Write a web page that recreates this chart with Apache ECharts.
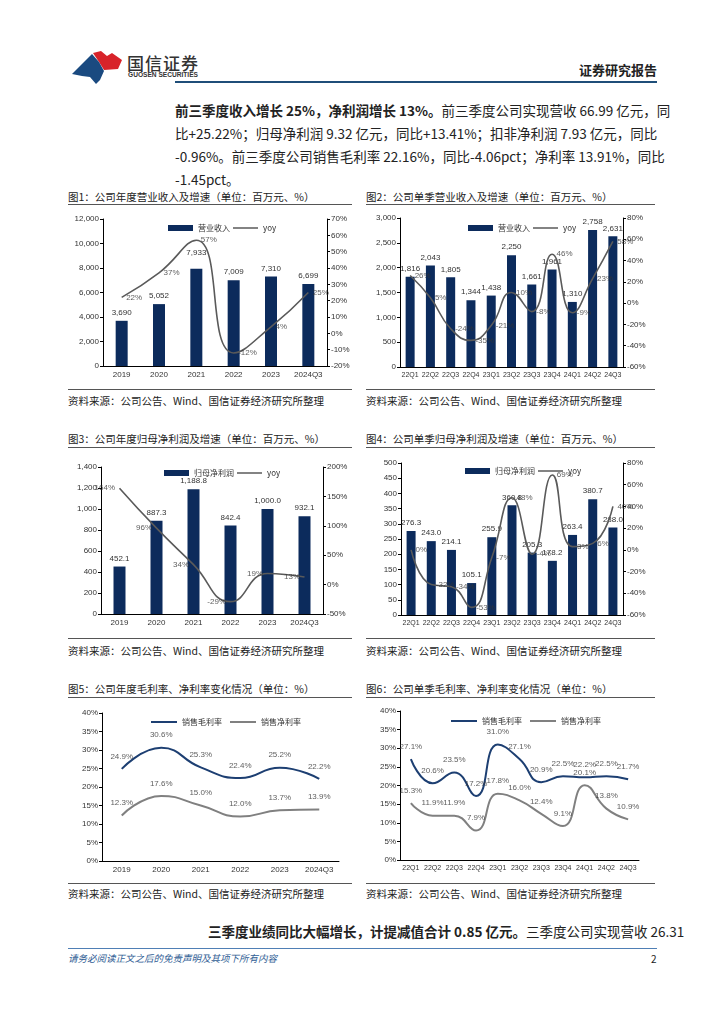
<!DOCTYPE html>
<html><head><meta charset="utf-8">
<script src="https://cdn.jsdelivr.net/npm/echarts@6/dist/echarts.min.js"></script>
<style>
html,body{margin:0;padding:0;background:#fff;}
body{width:724px;height:1024px;position:relative;overflow:hidden;font-family:"Noto Sans CJK SC","Liberation Sans",sans-serif;color:#222;}
.abs{position:absolute;}
.ln{position:absolute;left:175px;width:482px;font-size:13.5px;line-height:20px;white-space:nowrap;text-align:justify;text-align-last:justify;}
.ttl{position:absolute;font-size:10.5px;line-height:14px;color:#222;white-space:nowrap;}
.rule{position:absolute;height:0;border-top:1px solid #555;}
.src{position:absolute;font-size:10.5px;line-height:14px;color:#222;white-space:nowrap;}
.ch{position:absolute;}
</style></head>
<body>
<svg class="abs" style="left:66px;top:40px" width="70" height="50" viewBox="66 40 70 50">
  <polygon points="93,53 101,51 107,56 112,53 122,60 118,69 104,70 99,62" fill="#d8232a"/>
  <polygon points="72,74 92,54 99,62 104,71 100,80 96,84 90,77 82,76" fill="#1a4a80"/>
</svg>
<div class="abs" style="left:127px;top:50px;font-size:17px;letter-spacing:1px;color:#333;font-weight:500;">国信证券</div>
<div class="abs" style="left:128px;top:71px;font-size:6.6px;font-weight:bold;color:#333;font-family:'Liberation Sans',sans-serif;">GUOSEN SECURITIES</div>
<div class="abs" style="right:67px;top:60px;font-size:13px;font-weight:bold;color:#222;">证券研究报告</div>
<div class="abs" style="left:175px;top:81px;width:482px;height:2px;background:#1f4e79;"></div>

<div class="ln" style="top:100px;"><b>前三季度收入增长 25%，净利润增长 13%。</b>前三季度公司实现营收 66.99 亿元，同</div>
<div class="ln" style="top:123px;">比+25.22%；归母净利润 9.32 亿元，同比+13.41%；扣非净利润 7.93 亿元，同比</div>
<div class="ln" style="top:146px;">-0.96%。前三季度公司销售毛利率 22.16%，同比-4.06pct；净利率 13.91%，同比</div>
<div class="ln" style="top:169px;text-align-last:left;">-1.45pct。</div>

<div class="ttl" style="left:68px;top:190px;">图1：公司年度营业收入及增速（单位：百万元、%）</div>
<div class="rule" style="left:68px;top:204px;width:284px;"></div>
<div class="ttl" style="left:366px;top:190px;">图2：公司单季营业收入及增速（单位：百万元、%）</div>
<div class="rule" style="left:366px;top:204px;width:289px;"></div>
<div class="rule" style="left:68px;top:389px;width:284px;"></div>
<div class="rule" style="left:366px;top:389px;width:289px;"></div>
<div class="src" style="left:68px;top:394px;">资料来源：公司公告、Wind、国信证券经济研究所整理</div>
<div class="src" style="left:366px;top:394px;">资料来源：公司公告、Wind、国信证券经济研究所整理</div>

<div class="ttl" style="left:68px;top:432px;">图3：公司年度归母净利润及增速（单位：百万元、%）</div>
<div class="rule" style="left:68px;top:447px;width:284px;"></div>
<div class="ttl" style="left:366px;top:432px;">图4：公司单季归母净利润及增速（单位：百万元、%）</div>
<div class="rule" style="left:366px;top:447px;width:289px;"></div>
<div class="rule" style="left:68px;top:638px;width:284px;"></div>
<div class="rule" style="left:366px;top:638px;width:289px;"></div>
<div class="src" style="left:68px;top:644px;">资料来源：公司公告、Wind、国信证券经济研究所整理</div>
<div class="src" style="left:366px;top:644px;">资料来源：公司公告、Wind、国信证券经济研究所整理</div>

<div class="ttl" style="left:68px;top:682px;">图5：公司年度毛利率、净利率变化情况（单位：%）</div>
<div class="rule" style="left:68px;top:697px;width:284px;"></div>
<div class="ttl" style="left:366px;top:682px;">图6：公司单季毛利率、净利率变化情况（单位：%）</div>
<div class="rule" style="left:366px;top:697px;width:289px;"></div>
<div class="rule" style="left:68px;top:883px;width:284px;"></div>
<div class="rule" style="left:366px;top:883px;width:289px;"></div>
<div class="src" style="left:68px;top:887px;">资料来源：公司公告、Wind、国信证券经济研究所整理</div>
<div class="src" style="left:366px;top:887px;">资料来源：公司公告、Wind、国信证券经济研究所整理</div>

<div class="ln" style="top:921px;left:208px;width:449px;"><b>三季度业绩同比大幅增长，计提减值合计 0.85 亿元。</b>三季度公司实现营收 26.31</div>
<div class="abs" style="left:68px;top:948px;width:589px;height:1px;background:#4f7fb5;"></div>
<div class="abs" style="left:68px;top:951px;font-size:9.5px;font-style:italic;color:#2f5d94;">请务必阅读正文之后的免责声明及其项下所有内容</div>
<div class="abs" style="left:651px;top:951px;font-size:10px;color:#222;">2</div>

<div id="c1" class="ch" style="left:60px;top:208px;width:300px;height:182px;"></div>
<div id="c2" class="ch" style="left:360px;top:208px;width:300px;height:182px;"></div>
<div id="c3" class="ch" style="left:60px;top:455px;width:300px;height:180px;"></div>
<div id="c4" class="ch" style="left:360px;top:452px;width:300px;height:183px;"></div>
<div id="c5" class="ch" style="left:60px;top:700px;width:300px;height:182px;"></div>
<div id="c6" class="ch" style="left:360px;top:700px;width:300px;height:182px;"></div>

<script>
const years = ['2019','2020','2021','2022','2023','2024Q3'];
const quarters = ['22Q1','22Q2','22Q3','22Q4','23Q1','23Q2','23Q3','23Q4','24Q1','24Q2','24Q3'];

const revAnnual = [3690, 5052, 7933, 7009, 7310, 6699];
const revAnnualYoy = [22, 37, 57, -12, 4, 25];
const revQ = [1816, 2043, 1805, 1344, 1438, 2250, 1661, 1961, 1310, 2758, 2631];
const revQYoy = [26, 5, -24, -35, -21, 10, -8, 46, -9, 23, 58];

const npAnnual = [452.1, 887.3, 1188.8, 842.4, 1000.0, 932.1];
const npAnnualYoy = [164, 96, 34, -29, 19, 13];
const npQ = [276.3, 243.0, 214.1, 105.1, 255.9, 360.8, 205.3, 178.2, 263.4, 380.7, 288.0];
const npQYoy = [0, -32, -34, -53, -7, 48, -4, 69, 3, 6, 40];

const gmAnnual = [24.9, 30.6, 25.3, 22.4, 25.2, 22.2];
const nmAnnual = [12.3, 17.6, 15.0, 12.0, 13.7, 13.9];
const gmQ = [27.1, 20.6, 23.5, 17.2, 31.0, 27.1, 20.9, 22.5, 22.2, 22.5, 21.7];
const nmQ = [15.3, 11.9, 11.9, 7.9, 17.8, 16.0, 12.4, 9.1, 20.1, 13.8, 10.9];

const FONT = 'Liberation Sans';
const NAVY = '#0c2b5c';
const GRAY = '#5a5a5a';
const lbl = {fontSize: 8, color: '#333', fontFamily: FONT};
const fmtInt = v => Number(v).toLocaleString('en-US');
const fmt1 = v => Number(v).toLocaleString('en-US', {minimumFractionDigits: 1, maximumFractionDigits: 1});
const LINE_ICON_THIN = 'path://M0,0H40V2.4H0Z';
const LINE_ICON_THICK = 'path://M0,0H30V2.3H0Z';

function axisY(min, max, interval, fmt, pos) {
  return {
    type: 'value', min, max, interval, position: pos,
    axisLine: {show: true, lineStyle: {color: '#000', width: 1}},
    axisTick: {show: true, length: 3, lineStyle: {color: '#000'}},
    axisLabel: Object.assign({formatter: fmt, margin: 4}, lbl),
    splitLine: {show: false}
  };
}
function axisX(cats, fs) {
  return {
    type: 'category', data: cats,
    axisLine: {lineStyle: {color: '#000', width: 1}},
    axisTick: {show: false},
    axisLabel: Object.assign({}, lbl, {margin: 5, interval: 0, fontSize: fs || 8})
  };
}
function labelScatter(data, yIdx, pos, dist, fmt) {
  return {
    type: 'scatter', yAxisIndex: yIdx, data, symbol: 'circle', symbolSize: 1,
    itemStyle: {color: 'rgba(0,0,0,0)'}, silent: true, z: 4,
    label: Object.assign({show: true, position: pos, distance: dist, formatter: fmt}, lbl)
  };
}

function barLine(id, o) {
  const ch = echarts.init(document.getElementById(id), null, {renderer: 'canvas'});
  ch.setOption({
    animation: false,
    textStyle: {fontFamily: FONT},
    grid: o.grid,
    legend: {
      left: o.legend[0], top: o.legend[1], itemWidth: 25, itemHeight: 6, itemGap: 3,
      symbolKeepAspect: true,
      textStyle: {fontSize: 8, color: '#333', fontFamily: 'Noto Sans CJK SC'},
      data: [{name: o.barName, icon: 'rect'}, {name: 'yoy', icon: LINE_ICON_THIN}]
    },
    xAxis: axisX(o.cats, o.xfs),
    yAxis: [
      axisY(0, o.lMax, o.lInt, o.lFmt, 'left'),
      axisY(o.rMin, o.rMax, o.rInt, '{value}%', 'right')
    ],
    series: [
      {
        name: o.barName, type: 'bar', data: o.bars.map((v, i) => (o.barOff && o.barOff[i]) ? {value: v, label: {offset: [0, o.barOff[i]]}} : v),
        barWidth: o.barWidth, itemStyle: {color: NAVY},
        label: Object.assign({show: true, position: 'top', distance: 4, formatter: p => o.barFmt(p.value)}, lbl)
      },
      {
        name: 'yoy', type: 'line', yAxisIndex: 1, data: o.line, smooth: 0.5,
        symbol: 'none', lineStyle: {color: GRAY, width: 1.6}, itemStyle: {color: GRAY}, z: 3
      },
      labelScatter(o.line, 1, o.linePos, 4, p => p.value + '%')
    ]
  });
}

barLine('c1', {
  grid: {left: 43, right: 33, top: 11, bottom: 24},
  legend: [103, 11], cats: years, barName: '营业收入',
  bars: revAnnual, line: revAnnualYoy, barWidth: 12, barOff: [0, 0, -8, 0, 0, 0],
  lMax: 12000, lInt: 2000, lFmt: fmtInt, rMin: -20, rMax: 70, rInt: 10,
  barFmt: fmtInt, linePos: 'right'
});
barLine('c2', {
  grid: {left: 40, right: 37, top: 10, bottom: 23},
  legend: [103, 11], cats: quarters, barName: '营业收入', xfs: 7,
  bars: revQ, line: revQYoy, barWidth: 9,
  lMax: 3000, lInt: 500, lFmt: fmtInt, rMin: -60, rMax: 80, rInt: 20,
  barFmt: fmtInt, linePos: 'right'
});
barLine('c3', {
  grid: {left: 41, right: 37, top: 12, bottom: 21},
  legend: [99, 9], cats: years, barName: '归母净利润',
  bars: npAnnual, line: npAnnualYoy, barWidth: 12,
  lMax: 1400, lInt: 200, lFmt: fmtInt, rMin: -50, rMax: 200, rInt: 50,
  barFmt: fmt1, linePos: 'left'
});
barLine('c4', {
  grid: {left: 41, right: 37, top: 11, bottom: 20},
  legend: [100, 10], cats: quarters, barName: '归母净利润', xfs: 7,
  bars: npQ, line: npQYoy, barWidth: 9,
  lMax: 500, lInt: 50, lFmt: fmtInt, rMin: -60, rMax: 80, rInt: 20,
  barFmt: fmt1, linePos: 'right'
});

function margins(id, o) {
  const ch = echarts.init(document.getElementById(id), null, {renderer: 'canvas'});
  const mk = (name, data, color) => ({
    name, type: 'line', data, smooth: 0.5, symbol: 'none',
    lineStyle: {color, width: 2}, itemStyle: {color}
  });
  const fmt = p => p.value.toFixed(1) + '%';
  ch.setOption({
    animation: false,
    textStyle: {fontFamily: FONT},
    grid: o.grid,
    legend: {
      left: o.legend[0], top: o.legend[1], itemWidth: 26, itemHeight: 6, itemGap: 8,
      symbolKeepAspect: true,
      textStyle: {fontSize: 8, color: '#333', fontFamily: 'Noto Sans CJK SC'},
      data: [{name: '销售毛利率', icon: LINE_ICON_THICK}, {name: '销售净利率', icon: LINE_ICON_THICK}]
    },
    xAxis: axisX(o.cats, o.xfs),
    yAxis: axisY(0, 40, 5, '{value}%', 'left'),
    series: [
      mk('销售毛利率', o.gm, '#1d3f72'), mk('销售净利率', o.nm, '#808080'),
      labelScatter(o.gm, 0, 'top', 8, fmt), labelScatter(o.nm, 0, 'top', 8, fmt)
    ]
  });
}
margins('c5', {grid: {left: 42, right: 21, top: 13, bottom: 21}, legend: [86, 13], cats: years, gm: gmAnnual, nm: nmAnnual});
margins('c6', {grid: {left: 40, right: 21, top: 11, bottom: 22}, legend: [86, 12], cats: quarters, gm: gmQ, nm: nmQ, xfs: 7});
</script>
</body></html>
